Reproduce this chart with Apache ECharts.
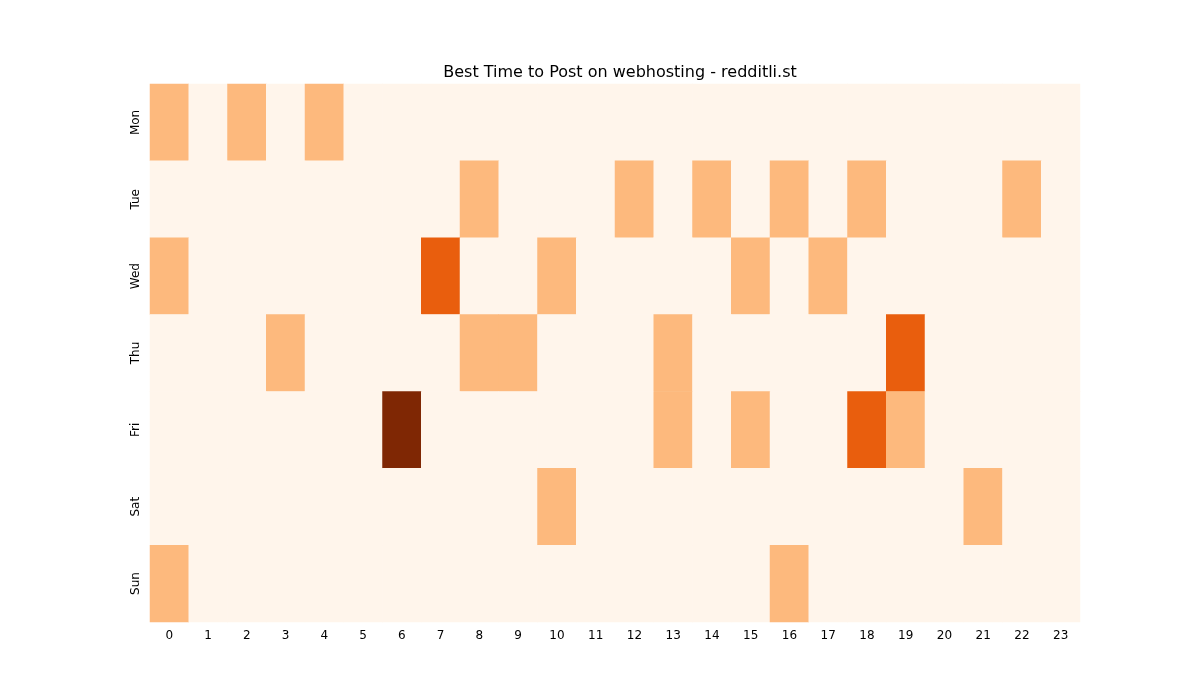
<!DOCTYPE html>
<html><head><meta charset="utf-8">
<script src="https://cdn.jsdelivr.net/npm/echarts@6/dist/echarts.min.js"></script>
<style>html,body{margin:0;padding:0;background:#fff}#c{width:1200px;height:700px}</style>
</head><body><div id="c"></div>
<script>
const hours = ['0','1','2','3','4','5','6','7','8','9','10','11','12','13','14','15','16','17','18','19','20','21','22','23'];
const days = ['Mon','Tue','Wed','Thu','Fri','Sat','Sun'];
const mon = [1,0,1,0,1,0,0,0,0,0,0,0,0,0,0,0,0,0,0,0,0,0,0,0];
const tue = [0,0,0,0,0,0,0,0,1,0,0,0,1,0,1,0,1,0,1,0,0,0,1,0];
const wed = [1,0,0,0,0,0,0,2,0,0,1,0,0,0,0,1,0,1,0,0,0,0,0,0];
const thu = [0,0,0,1,0,0,0,0,1,1,0,0,0,1,0,0,0,0,0,2,0,0,0,0];
const fri = [0,0,0,0,0,0,3,0,0,0,0,0,0,1,0,1,0,0,2,1,0,0,0,0];
const sat = [0,0,0,0,0,0,0,0,0,0,1,0,0,0,0,0,0,0,0,0,0,1,0,0];
const sun = [1,0,0,0,0,0,0,0,0,0,0,0,0,0,0,0,1,0,0,0,0,0,0,0];
const rows = [mon,tue,wed,thu,fri,sat,sun];
const data = [];
rows.forEach((r,d)=>r.forEach((v,h)=>data.push([h,d,v])));
const chart = echarts.init(document.getElementById('c'));
chart.setOption({
  animation:false,
  title:{text:'Best Time to Post on webhosting - redditli.st',left:615,top:60,textAlign:'center',
    textStyle:{fontFamily:'DejaVu Sans',fontSize:16,fontWeight:'normal',color:'#000'}},
  grid:{left:150,right:120,top:84,bottom:78},
  xAxis:{type:'category',data:hours,splitArea:{show:false},
    axisLine:{show:false},axisTick:{alignWithLabel:true,length:4,lineStyle:{color:'#000'}},
    axisLabel:{color:'#000',fontFamily:'DejaVu Sans',fontSize:12,margin:8}},
  yAxis:{type:'category',data:days,inverse:true,
    axisLine:{show:false},axisTick:{alignWithLabel:true,length:4,lineStyle:{color:'#000'}},
    axisLabel:{color:'#000',fontFamily:'DejaVu Sans',fontSize:12,rotate:90,margin:8}},
  visualMap:{show:false,type:'piecewise',dimension:2,
    pieces:[{value:0,color:'#fff5eb'},{value:1,color:'#fdb97d'},{value:2,color:'#e95e0d'},{value:3,color:'#7f2704'}]},
  series:[{type:'heatmap',data:data,itemStyle:{borderWidth:0}}],
  graphic:[{type:'text',left:550,top:337,style:{text:'redditli.st',fill:'rgba(150,150,150,0.55)',
    font:'26px "DejaVu Sans"'}}]
});
</script></body></html>
